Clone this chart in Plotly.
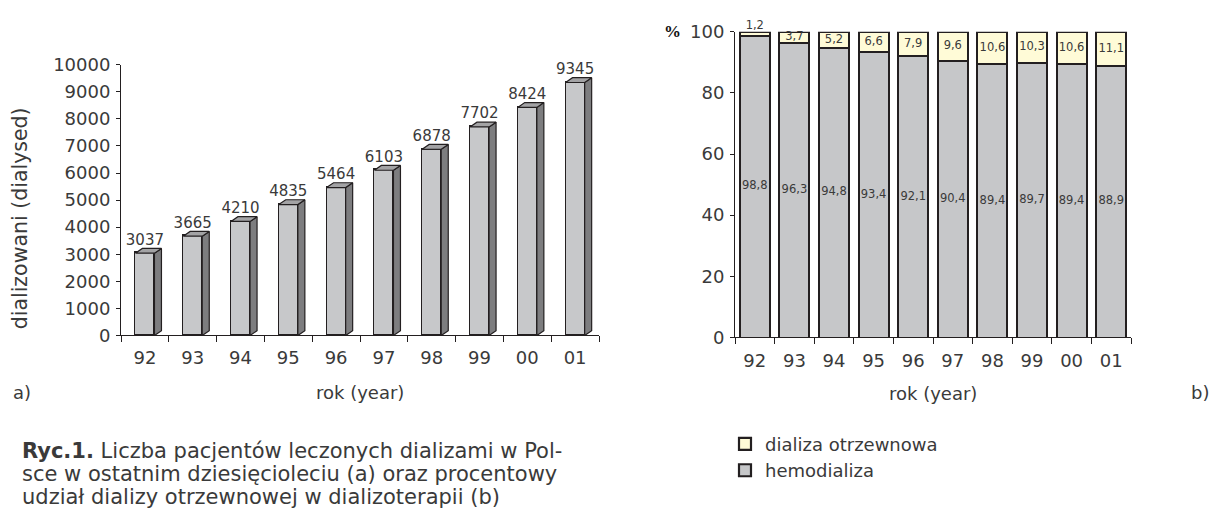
import plotly.graph_objects as go

# ---------------- data ----------------
years = ["92", "93", "94", "95", "96", "97", "98", "99", "00", "01"]
dialysed = [3037, 3665, 4210, 4835, 5464, 6103, 6878, 7702, 8424, 9345]
hemodializa = [98.8, 96.3, 94.8, 93.4, 92.1, 90.4, 89.4, 89.7, 89.4, 88.9]
dializa_otrzewnowa = [1.2, 3.7, 5.2, 6.6, 7.9, 9.6, 10.6, 10.3, 10.6, 11.1]
y_ticks_a = list(range(0, 10001, 1000))
y_ticks_b = list(range(0, 101, 20))
caption_lines = [
    "<b>Ryc.1.</b> Liczba pacjentów leczonych dializami w Pol-",
    "sce w ostatnim dziesięcioleciu (a) oraz procentowy",
    "udział dializy otrzewnowej w dializoterapii (b)",
]

def pl(v):
    return f"{v:.1f}".replace(".", ",")

W, H = 1219, 523
FONT = "DejaVu Sans"
WT = 400
INK = "#231f20"
TXT = "#3a3a3a"

ax_a = dict(x0=121, x1=599, y0=338, y1=56)
ax_b = dict(x0=735, x1=1131, y0=340, y1=21.7)

def dom_x(a):
    return [a["x0"] / W, a["x1"] / W]

def dom_y(a):
    return [(H - a["y0"]) / H, (H - a["y1"]) / H]

def f(size, **kw):
    d = dict(family=FONT, size=size, color=TXT, weight=WT)
    d.update(kw)
    return d

xi = list(range(len(years)))

fig = go.Figure()

# ---------- chart a: pseudo-3D bars ----------
bw = 0.40
px_per_cat = (ax_a["x1"] - ax_a["x0"]) / len(years)
px_per_unit = (ax_a["y0"] - ax_a["y1"]) / 10000
dx = 7 / px_per_cat
dy = 5 / px_per_unit

sx, sy, tx, ty = [], [], [], []
for x, v in zip(xi, dialysed):
    r = x + bw / 2
    l = x - bw / 2
    sx += [r, r + dx, r + dx, r, r, None]
    sy += [0, dy, v + dy, v, 0, None]
    tx += [l, l + dx, r + dx, r, l, None]
    ty += [v, v + dy, v + dy, v, v, None]

fig.add_trace(go.Scatter(x=sx, y=sy, mode="lines", fill="toself",
                         fillcolor="#7d7d7f", line=dict(color=INK, width=1.2),
                         xaxis="x", yaxis="y", showlegend=False, hoverinfo="skip"))
fig.add_trace(go.Scatter(x=tx, y=ty, mode="lines", fill="toself",
                         fillcolor="#a3a3a5", line=dict(color=INK, width=1.2),
                         xaxis="x", yaxis="y", showlegend=False, hoverinfo="skip"))
fig.add_trace(go.Bar(x=xi, y=dialysed, width=bw, marker=dict(color="#c7c8ca", line=dict(color=INK, width=1.4)),
                     xaxis="x", yaxis="y", showlegend=False, hoverinfo="skip"))
fig.add_trace(go.Scatter(x=xi, y=[v + dy for v in dialysed], mode="text",
                         text=[str(v) for v in dialysed], textposition="top center",
                         textfont=f(15),
                         xaxis="x", yaxis="y", showlegend=False, hoverinfo="skip", cliponaxis=False))

# ---------- chart b: stacked percentage bars ----------
bw2 = 0.76
fig.add_trace(go.Bar(x=xi, y=hemodializa, width=bw2, name="hemodializa",
                     marker=dict(color="#c6c7c9", line=dict(color=INK, width=2.2)),
                     xaxis="x2", yaxis="y2", hoverinfo="skip"))
fig.add_trace(go.Bar(x=xi, y=dializa_otrzewnowa, width=bw2, name="dializa otrzewnowa",
                     marker=dict(color="#fffbd7", line=dict(color=INK, width=2.2)),
                     xaxis="x2", yaxis="y2", hoverinfo="skip"))

fig.add_trace(go.Scatter(x=xi, y=[h / 2 for h in hemodializa], mode="text",
                         text=[pl(h) for h in hemodializa], textposition="middle center",
                         textfont=f(11.5),
                         xaxis="x2", yaxis="y2", showlegend=False, hoverinfo="skip", cliponaxis=False))
py, ppos = [], []
for h, p in zip(hemodializa, dializa_otrzewnowa):
    if p < 3:
        py.append(h + p)
        ppos.append("top center")
    else:
        py.append(h + p / 2)
        ppos.append("middle center")
fig.add_trace(go.Scatter(x=xi, y=py, mode="text",
                         text=[pl(p) for p in dializa_otrzewnowa], textposition=ppos,
                         textfont=f(11.5),
                         xaxis="x2", yaxis="y2", showlegend=False, hoverinfo="skip", cliponaxis=False))

# ---------- axes ----------
def xaxis_cfg(standoff):
    return dict(
        tickmode="array", tickvals=xi, ticktext=years, ticks="", range=[-0.5, len(years) - 0.5],
        showline=True, linecolor=INK, linewidth=1, showgrid=False, zeroline=False,
        tickfont=f(18), ticklabelstandoff=standoff,
        minor=dict(tickmode="array", tickvals=[i - 0.5 for i in range(len(years) + 1)],
                   ticks="outside", ticklen=6, tickcolor=INK, tickwidth=1, showgrid=False),
    )

common_y = dict(
    tickmode="array", ticks="outside", ticklen=4, tickcolor=INK, tickwidth=1,
    showline=True, linecolor=INK, linewidth=1, showgrid=False, zeroline=False,
    tickfont=f(18), ticklabelstandoff=2,
)

fig.update_layout(
    width=W, height=H, margin=dict(l=0, r=0, t=0, b=0),
    paper_bgcolor="white", plot_bgcolor="white",
    barmode="stack", bargap=0,
    font=f(18),
    xaxis=dict(domain=dom_x(ax_a), anchor="y", **xaxis_cfg(6)),
    yaxis=dict(domain=dom_y(ax_a), anchor="x", range=[0, 10000],
               tickvals=y_ticks_a, ticktext=[str(v) for v in y_ticks_a], **common_y),
    xaxis2=dict(domain=dom_x(ax_b), anchor="y2", **xaxis_cfg(7)),
    yaxis2=dict(domain=dom_y(ax_b), anchor="x2", range=[0, 100],
                tickvals=y_ticks_b, ticktext=[str(v) for v in y_ticks_b], **common_y),
    legend=dict(x=725 / W, y=(H - 432) / H, xanchor="left", yanchor="top",
                traceorder="reversed", font=f(18),
                bgcolor="rgba(0,0,0,0)", itemclick=False),
    showlegend=True,
)

ann = [
    dict(text="dializowani (dialysed)", x=20 / W, y=(H - 216) / H, textangle=-90, font=f(20.5)),
    dict(text="rok (year)", x=(ax_a["x0"] + ax_a["x1"]) / 2 / W, y=(H - 397) / H, font=f(18)),
    dict(text="a)", x=22 / W, y=(H - 397) / H, font=f(18)),
    dict(text="rok (year)", x=(ax_b["x0"] + ax_b["x1"]) / 2 / W, y=(H - 398) / H, font=f(18)),
    dict(text="b)", x=1200 / W, y=(H - 397) / H, font=f(18)),
    dict(text="<b>%</b>", x=672 / W, y=(H - 21) / H, font=f(17, family="Liberation Serif", color="#111", weight=700)),
]
for i, line in enumerate(caption_lines):
    ann.append(dict(text=line, x=20 / W, y=(H - (458 + 24 * i)) / H, xanchor="left", font=f(21)))

for a in ann:
    a.setdefault("xanchor", "center")
    a.setdefault("yanchor", "middle")
    a["xref"] = "paper"
    a["yref"] = "paper"
    a["showarrow"] = False
    fig.add_annotation(**a)

fig.write_html("out.html")
